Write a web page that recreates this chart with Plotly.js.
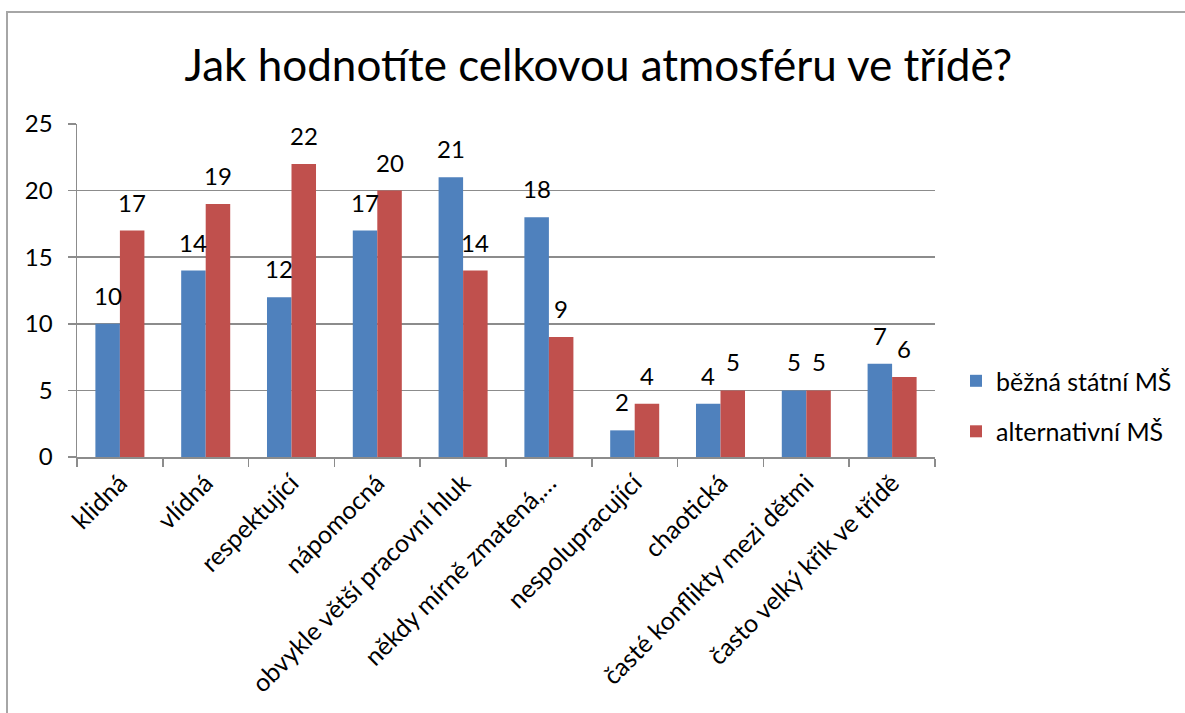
<!DOCTYPE html>
<html>
<head>
<meta charset="utf-8">
<script src="https://cdn.plot.ly/plotly-3.0.1.min.js"></script>
<style>
  html, body { margin:0; padding:0; background:#fff; overflow:hidden; }
  #chart { width:1185px; height:713px; position:absolute; left:0; top:0; }
  #frame { position:absolute; left:6px; top:11px; width:1400px; height:900px;
           border:2px solid #a6a6a6; pointer-events:none; }
</style>
</head>
<body>
<div id="chart"></div>
<div id="frame"></div>
<script>
const categories = ["klidná", "vlídná", "respektující", "nápomocná", "obvykle větší pracovní hluk",
  "někdy mírně zmatená,…", "nespolupracující", "chaotická", "časté konflikty mezi dětmi", "často velký křik ve třídě"];
const seriesNames = ["běžná státní MŠ", "alternativní MŠ"];
const statniValues = [10, 14, 12, 17, 21, 18, 2, 4, 5, 7];
const alternativniValues = [17, 19, 22, 20, 14, 9, 4, 5, 5, 6];
const colors = ["#4F81BD", "#C0504D"];
const yTicks = [0, 5, 10, 15, 20, 25];

const FONT = "Lato, 'Open Sans', sans-serif";

const traces = [statniValues, alternativniValues].map((vals, i) => ({
  type: "bar",
  name: seriesNames[i],
  x: categories,
  y: vals,
  marker: { color: colors[i], line: { width: 0 } },
  legendgroup: "g" + i,
  hoverinfo: "x+y"
}));

const plotW = 1185 - 77 - 250;
const barW = plotW / categories.length / 3.5;
const annotations = [];
[statniValues, alternativniValues].forEach((vals, i) => {
  vals.forEach((v, j) => {
    annotations.push({
      x: categories[j], y: v, xref: "x", yref: "y",
      text: String(v), showarrow: false,
      xshift: (i === 0 ? -1 : 1) * barW / 2,
      yanchor: "bottom", yshift: 12,
      font: { family: FONT, size: 24, color: "#000" }
    });
  });
});

const layout = {
  width: 1185, height: 713,
  paper_bgcolor: "#fff", plot_bgcolor: "#fff",
  margin: { l: 77, r: 250, t: 124, b: 256, autoexpand: false },
  font: { family: FONT, color: "#000" },
  title: {
    text: "Jak hodnotíte celkovou atmosféru ve třídě?",
    font: { family: FONT, size: 44, color: "#000" },
    x: 0.505, xanchor: "center", y: 0.908, yanchor: "middle", yref: "container"
  },
  barmode: "group",
  bargap: 1.5 / 3.5,
  bargroupgap: 0,
  showlegend: true,
  legend: {
    x: 1.0245, xanchor: "left", y: 0.153, yanchor: "middle",
    font: { family: FONT, size: 25, color: "#000" },
    tracegroupgap: 15, traceorder: "grouped",
    bgcolor: "rgba(0,0,0,0)"
  },
  xaxis: {
    type: "category",
    tickangle: -45,
    tickfont: { family: FONT, size: 25, color: "#000" },
    showline: true, linecolor: "#8c8c8c", linewidth: 1.5,
    ticks: "outside", tickson: "boundaries", ticklen: 8, tickcolor: "#8c8c8c", tickwidth: 1.5,
    showgrid: false, zeroline: false, automargin: false
  },
  yaxis: {
    range: [0, 25],
    tickvals: yTicks,
    tickfont: { family: FONT, size: 24, color: "#000" },
    showline: true, linecolor: "#8c8c8c", linewidth: 1.5,
    ticks: "outside", ticklen: 8, tickcolor: "#8c8c8c", tickwidth: 1.5,
    ticklabelstandoff: 10,
    showgrid: true, gridcolor: "#8c8c8c", gridwidth: 1.5,
    zeroline: false, automargin: false
  },
  annotations: annotations
};

Plotly.newPlot("chart", traces, layout, { displayModeBar: false, staticPlot: true });
</script>
</body>
</html>
